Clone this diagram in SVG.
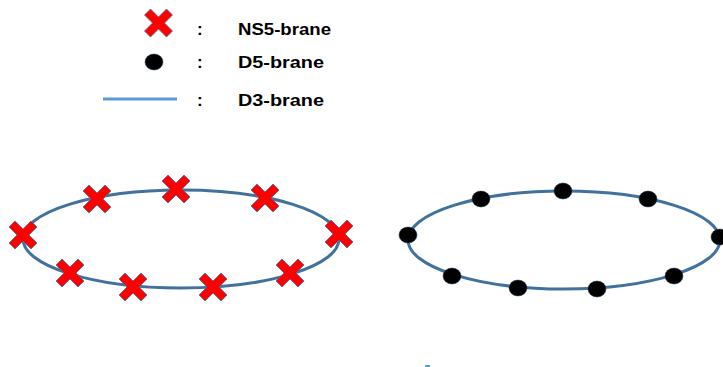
<svg xmlns="http://www.w3.org/2000/svg" width="723" height="367" viewBox="0 0 723 367">
<style>
.lbl{font-family:"Liberation Sans",Arial,sans-serif;font-weight:bold;font-size:17px;fill:#000}
.ring{fill:none;stroke:#41719c;stroke-width:3}
.x{fill:#ff0000;stroke:#41719c;stroke-width:0.8}
.dot{fill:#000;stroke:#1f3a5a;stroke-width:0.5}
</style>
<defs>
<path id="cross" d="M-14,-8 L-8,-14 L0,-6 L8,-14 L14,-8 L6,0 L14,8 L8,14 L0,6 L-8,14 L-14,8 L-6,0 Z"/>
</defs>
<rect width="723" height="367" fill="#fff"/>
<g id="legend">
<use href="#cross" class="x" x="158.5" y="23"/>
<ellipse class="dot" cx="154" cy="62" rx="9" ry="8"/>
<line x1="103" y1="99" x2="177" y2="99" stroke="#5b9bd5" stroke-width="3"/>
<text class="lbl" x="197" y="35">:</text>
<text class="lbl" x="197" y="68">:</text>
<text class="lbl" x="197" y="106">:</text>
<text class="lbl" x="238" y="35" textLength="93" lengthAdjust="spacingAndGlyphs">NS5-brane</text>
<text class="lbl" x="238" y="68" textLength="86" lengthAdjust="spacingAndGlyphs">D5-brane</text>
<text class="lbl" x="238" y="106" textLength="86" lengthAdjust="spacingAndGlyphs">D3-brane</text>
</g>
<g id="connectors">
<ellipse id="ring-ns5" class="ring" cx="181" cy="239" rx="158" ry="49"/>
<ellipse id="ring-d5" class="ring" cx="564" cy="240" rx="156" ry="49"/>
</g>
<g id="ns5-branes">
<use id="ns5-1" href="#cross" class="x" x="23" y="235"/>
<use id="ns5-2" href="#cross" class="x" x="97" y="199"/>
<use id="ns5-3" href="#cross" class="x" x="176" y="189"/>
<use id="ns5-4" href="#cross" class="x" x="265" y="198"/>
<use id="ns5-5" href="#cross" class="x" x="339" y="234"/>
<use id="ns5-6" href="#cross" class="x" x="70" y="273"/>
<use id="ns5-7" href="#cross" class="x" x="133" y="287"/>
<use id="ns5-8" href="#cross" class="x" x="213" y="287"/>
<use id="ns5-9" href="#cross" class="x" x="290" y="273"/>
</g>
<g id="d5-branes">
<ellipse id="d5-1" class="dot" cx="408" cy="235" rx="9" ry="8"/>
<ellipse id="d5-2" class="dot" cx="481" cy="199" rx="9" ry="8"/>
<ellipse id="d5-3" class="dot" cx="563" cy="191" rx="9" ry="8"/>
<ellipse id="d5-4" class="dot" cx="648" cy="199" rx="9" ry="8"/>
<ellipse id="d5-5" class="dot" cx="720" cy="237" rx="9" ry="8"/>
<ellipse id="d5-6" class="dot" cx="452" cy="276" rx="9" ry="8"/>
<ellipse id="d5-7" class="dot" cx="518" cy="288" rx="9" ry="8"/>
<ellipse id="d5-8" class="dot" cx="597" cy="289" rx="9" ry="8"/>
<ellipse id="d5-9" class="dot" cx="674" cy="276" rx="9" ry="8"/>
</g>
<rect x="425" y="365" width="5" height="2" fill="#5b9bd5"/>
</svg>
